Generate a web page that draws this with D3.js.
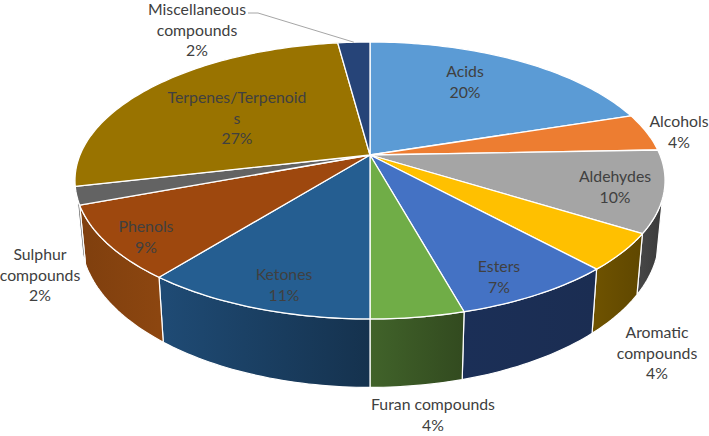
<!DOCTYPE html>
<meta charset="utf-8">
<style>
  body { margin: 0; background: #fff; }
  text {
    font-family: Lato, "Open Sans", sans-serif;
    font-size: 15.8px;
    fill: #404040;
    text-anchor: middle;
  }
</style>
<svg width="709" height="436"></svg>
<script src="https://d3js.org/d3.v7.min.js"></script>
<script>
  var categories = ["Acids", "Alcohols", "Aldehydes", "Aromatic compounds", "Esters", "Furan compounds", "Ketones", "Phenols", "Sulphur compounds", "Terpenes/Terpenoids", "Miscellaneous compounds"];
  var values = [20, 4.4, 9.5, 4.3, 7.5, 4.3, 10.7, 8.6, 2.1, 26.5, 2.1];
  var percents = ["20%", "4%", "10%", "4%", "7%", "4%", "11%", "9%", "2%", "27%", "2%"];
  var topColors = ["#5b9bd5", "#ed7d31", "#a5a5a5", "#ffc000", "#4472c4", "#70ad47", "#255e91", "#9e480e", "#636363", "#997300", "#264478"];
  var wallLeft = ["#000", "#000", "#454545", "#6e5200", "#1b2f57", "#41632a", "#1f4b75", "#7f3f0e", "#5a5a5a", "#000", "#000"];
  var wallRight = ["#000", "#000", "#3a3a3a", "#5f4700", "#1b2d52", "#324a1f", "#15324e", "#8c4610", "#5a5a5a", "#000", "#000"];

  // label lines and where each block is centred
  var labelLines = [["Acids"], ["Alcohols"], ["Aldehydes"], ["Aromatic", "compounds"], ["Esters"], ["Furan compounds"], ["Ketones"], ["Phenols"], ["Sulphur", "compounds"], ["Terpenes/Terpenoid", "s"], ["Miscellaneous", "compounds"]];
  var labelX = [465, 679, 615, 657, 499, 433, 284, 146, 40, 237, 197];
  var labelY = [77, 127, 182, 338, 272, 410, 280, 232, 260, 103, 15];

  var svg = d3.select("svg");
  var cx = 370, cy = 155;
  var radius = 290, persp = 0.184, tilt = 133.8;

  // perspective projection of the unit circle, ring 0 = top face, ring 1 = bottom face
  function project(angle, ring) {
    var X = Math.sin(angle), Y = -Math.cos(angle);
    var w = 1 - persp * Y;
    var dx = radius * X / w, dy = tilt * Y / w;
    if (ring) return [cx + 0.98 * dx, cy + 54.5 + 1.085 * dy];
    return [cx + dx, cy + dy];
  }

  function arcPoints(a0, a1, ring) {
    var n = Math.max(2, Math.ceil(Math.abs(a1 - a0) / 0.02));
    return d3.range(n + 1).map(function(i) {
      return project(a0 + (a1 - a0) * i / n, ring);
    });
  }

  var line = d3.line();
  var pie = d3.pie().sort(null).value(function(d) { return d; });
  var slices = pie(values);

  var wallFrom = 108 * Math.PI / 180, wallTo = 253 * Math.PI / 180;
  var defs = svg.append("defs");

  //side walls
  var walls = slices.map(function(d, i) {
    return {
      i: i,
      a0: Math.max(d.startAngle, wallFrom),
      a1: Math.min(d.endAngle, wallTo)
    };
  }).filter(function(d) { return d.a1 > d.a0; });

  walls.forEach(function(d) {
    var x0 = project(d.a0, 0)[0], x1 = project(d.a1, 0)[0];
    var grad = defs.append("linearGradient")
      .attr("id", "wall" + d.i)
      .attr("gradientUnits", "userSpaceOnUse")
      .attr("x1", Math.min(x0, x1)).attr("x2", Math.max(x0, x1))
      .attr("y1", 0).attr("y2", 0);
    grad.append("stop").attr("offset", 0).attr("stop-color", wallLeft[d.i]);
    grad.append("stop").attr("offset", 1).attr("stop-color", wallRight[d.i]);
  });

  svg.append("g")
    .selectAll("path")
    .data(walls)
    .enter().append("path")
    .attr("d", function(d) {
      var pts = arcPoints(d.a0, d.a1, 0).concat(arcPoints(d.a1, d.a0, 1));
      return line(pts) + "Z";
    })
    .attr("fill", function(d) { return "url(#wall" + d.i + ")"; })
    .attr("stroke", "#fff")
    .attr("stroke-width", 1.2)
    .attr("stroke-linejoin", "round");

  //top face
  svg.append("g")
    .selectAll("path")
    .data(slices)
    .enter().append("path")
    .attr("d", function(d) {
      return line([[cx, cy]].concat(arcPoints(d.startAngle, d.endAngle, 0))) + "Z";
    })
    .attr("fill", function(d, i) { return topColors[i]; })
    .attr("stroke", "#fff")
    .attr("stroke-width", 1.3)
    .attr("stroke-linejoin", "round");

  //leader line for the miscellaneous label
  var misc = slices[10];
  var anchor = project((misc.startAngle + misc.endAngle) / 2, 0);
  svg.append("polyline")
    .attr("points", [[248, 13], [258, 13], anchor].join(" "))
    .attr("fill", "none")
    .attr("stroke", "#a6a6a6")
    .attr("stroke-width", 1);

  //labels
  var labels = svg.append("g")
    .selectAll("text")
    .data(categories)
    .enter().append("text")
    .attr("y", function(d, i) { return labelY[i]; });

  labels.each(function(d, i) {
    var t = d3.select(this);
    labelLines[i].concat(percents[i]).forEach(function(s, j) {
      t.append("tspan")
        .attr("x", labelX[i])
        .attr("dy", j ? 20.5 : 0)
        .text(s);
    });
  });
</script>
